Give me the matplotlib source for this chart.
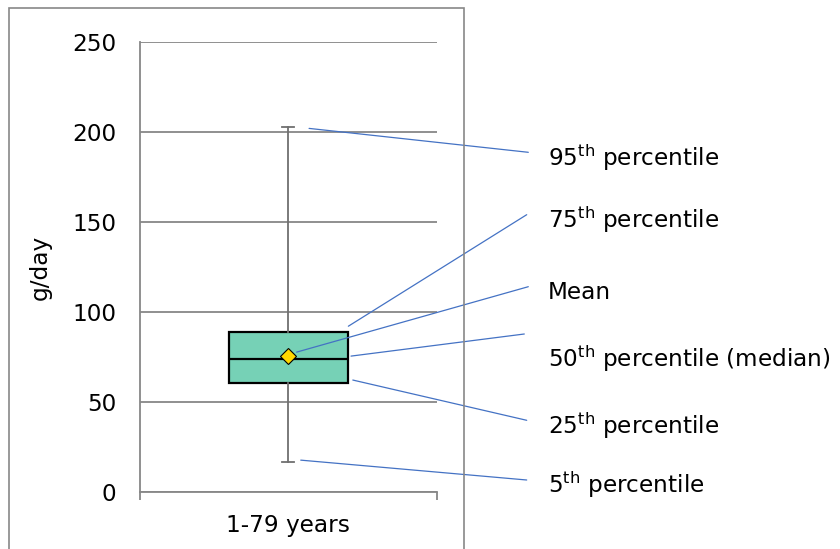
import matplotlib
matplotlib.use('Agg')
import matplotlib.pyplot as plt
from matplotlib.patches import Rectangle

# ---- data ----
categories = ['1-79 years']
p5 = [16.7]
p25 = [60.7]
p50 = [74.0]
means = [75.7]
p75 = [89.1]
p95 = [203.0]
y_ticks = [0, 50, 100, 150, 200, 250]
y_label = 'g/day'
legend_labels = ['95$^{\\mathrm{th}}$ percentile',
                 '75$^{\\mathrm{th}}$ percentile',
                 'Mean',
                 '50$^{\\mathrm{th}}$ percentile (median)',
                 '25$^{\\mathrm{th}}$ percentile',
                 '5$^{\\mathrm{th}}$ percentile']

W, H = 840, 549
FS = 16.7
GRAY = '#878787'
BLUE = '#4472C4'

fig = plt.figure(figsize=(W / 100, H / 100), dpi=100)

# outer chart frame
fig.patches.append(Rectangle((8.5 / W, -0.05), (464 - 8.5) / W, (H - 7.5) / H + 0.05,
                             transform=fig.transFigure, fill=False,
                             edgecolor=GRAY, linewidth=1.2))

ax = fig.add_axes([139.5 / W, (H - 492) / H, (437 - 139.5) / W, (492 - 42) / H])

stats = [dict(label=categories[0], whislo=p5[0], q1=p25[0], med=p50[0],
              mean=means[0], q3=p75[0], whishi=p95[0], fliers=[])]
ax.bxp(stats, positions=[1], widths=0.4, capwidths=0.04, showmeans=True,
       patch_artist=True,
       boxprops=dict(facecolor='#76D1B6', edgecolor='black', linewidth=1.6),
       medianprops=dict(color='black', linewidth=1.6),
       whiskerprops=dict(color='#707070', linewidth=1.3),
       capprops=dict(color='#707070', linewidth=1.3),
       meanprops=dict(marker='D', markerfacecolor='#FFD700',
                      markeredgecolor='black', markersize=7.8,
                      markeredgewidth=0.8),
       zorder=3)

ax.set_xlim(0.5, 1.5)
ax.set_ylim(0, 250)
for s in ['top', 'right']:
    ax.spines[s].set_visible(False)
for s in ['left', 'bottom']:
    ax.spines[s].set_color(GRAY)
    ax.spines[s].set_linewidth(1.3)

ax.set_yticks(y_ticks)
ax.tick_params(axis='y', length=0, pad=16.5, labelsize=FS)
ax.yaxis.grid(True, color=GRAY, linewidth=1.3)
ax.set_axisbelow(True)

ax.set_xticks([1])
ax.set_xticklabels(categories)
ax.tick_params(axis='x', which='major', length=0, pad=16, labelsize=FS)
ax.set_xticks([0.5, 1.5], minor=True)
ax.tick_params(axis='x', which='minor', length=5.8, width=1.3, color=GRAY)

ax.set_ylabel(y_label, fontsize=FS, va='center')
ax.yaxis.set_label_coords((40 - 139.5) / (437 - 139.5), 0.5)

# leader lines: (anchor in data coords relative to value, end in figure pixels)
anchors = [(1.07, p95[0] - 1), (1.202, p75[0] + 3), (1.028, means[0] + 2),
           (1.211, p50[0] + 1.5), (1.217, p25[0] + 1.5), (1.042, p5[0] + 1)]
ends = [(528.3, 152.3), (526.7, 214.7), (528.3, 286.7),
        (524.3, 334.0), (526.7, 420.3), (526.7, 480.0)]
baselines = [166, 228.3, 299, 367.3, 434, 493.3]

for (xa, ya), (ex, ey), lab, bl in zip(anchors, ends, legend_labels, baselines):
    ax.annotate('', xy=(xa, ya), xycoords='data',
                xytext=(ex, H - ey), textcoords='figure pixels',
                arrowprops=dict(arrowstyle='-', color=BLUE, lw=0.9,
                                shrinkA=0, shrinkB=0),
                annotation_clip=False)
    fig.text(548 / W, (H - bl) / H, lab, fontsize=FS, ha='left', va='baseline')

fig.savefig('out.png', dpi=100)
